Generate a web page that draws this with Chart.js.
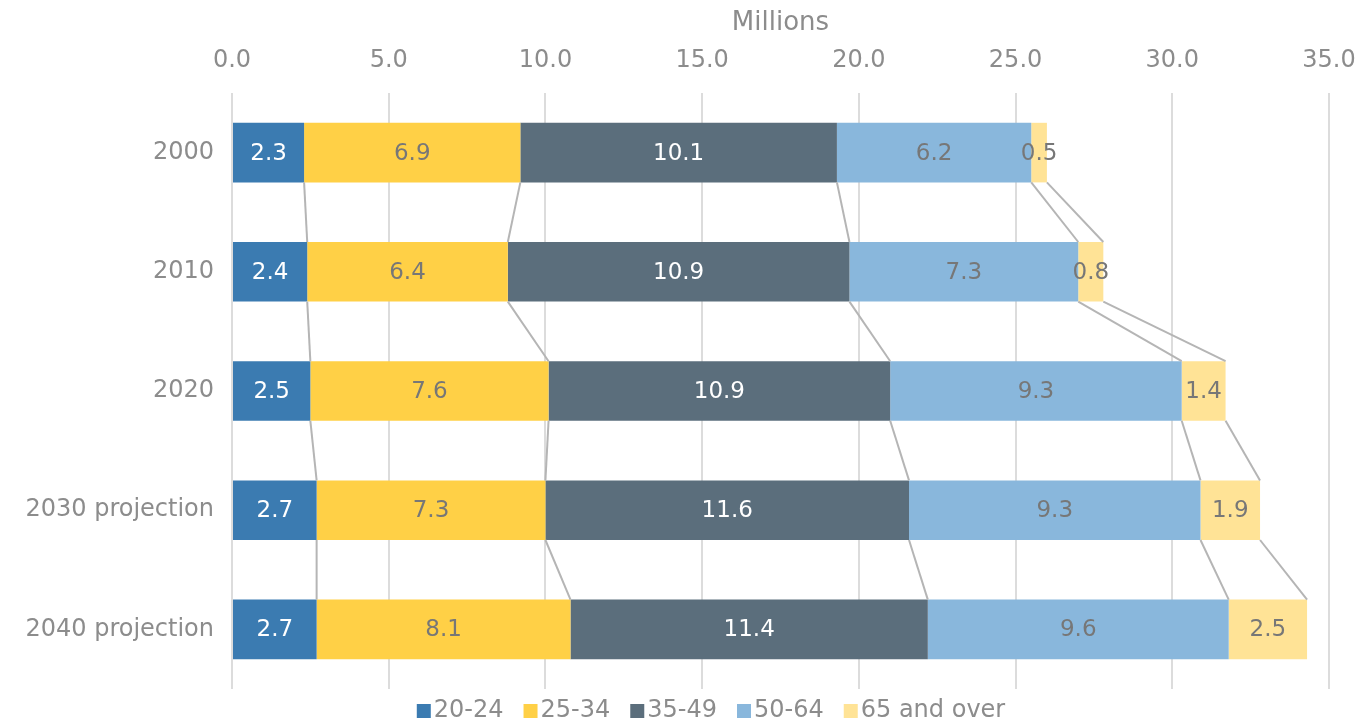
<!DOCTYPE html>
<html>
<head>
<meta charset="utf-8">
<script src="https://cdn.jsdelivr.net/npm/chart.js@4"></script>
<style>
html,body{margin:0;padding:0;background:#fff;}
#wrap{width:1371px;height:725px;}
</style>
</head>
<body>
<div id="wrap"><canvas id="c" width="1371" height="725"></canvas></div>
<script>
const categories = ["2000", "2010", "2020", "2030 projection", "2040 projection"];
const seriesNames = ["20-24", "25-34", "35-49", "50-64", "65 and over"];
const age20_24 = [2.3, 2.4, 2.5, 2.7, 2.7];
const age25_34 = [6.9, 6.4, 7.6, 7.3, 8.1];
const age35_49 = [10.1, 10.9, 10.9, 11.6, 11.4];
const age50_64 = [6.2, 7.3, 9.3, 9.3, 9.6];
const age65plus = [0.5, 0.8, 1.4, 1.9, 2.5];
const xTicks = [0, 5, 10, 15, 20, 25, 30, 35];

const seriesValues = [age20_24, age25_34, age35_49, age50_64, age65plus];
const colors = ["#3B7BB1", "#FFD046", "#5B6E7C", "#89B7DC", "#FFE396"];
const labelColors = ["#ffffff", "#777777", "#ffffff", "#777777", "#777777"];
const FONT = "'DejaVu Sans', sans-serif";
const GRAY = "#8c8c8c";

const seriesLines = {
  id: 'seriesLines',
  afterDatasetsDraw(chart) {
    const ctx = chart.ctx;
    ctx.save();
    ctx.strokeStyle = '#b5b5b5';
    ctx.lineWidth = 2;
    chart.data.datasets.forEach((ds, di) => {
      const meta = chart.getDatasetMeta(di);
      for (let i = 0; i < meta.data.length - 1; i++) {
        const a = meta.data[i], b = meta.data[i + 1];
        ctx.beginPath();
        ctx.moveTo(a.x, a.y + a.height / 2);
        ctx.lineTo(b.x, b.y - b.height / 2);
        ctx.stroke();
      }
    });
    ctx.restore();
  }
};

const dataLabels = {
  id: 'dataLabels',
  afterDatasetsDraw(chart) {
    const ctx = chart.ctx;
    ctx.save();
    ctx.font = "23px " + FONT;
    ctx.textAlign = 'center';
    ctx.textBaseline = 'middle';
    chart.data.datasets.forEach((ds, di) => {
      const meta = chart.getDatasetMeta(di);
      meta.data.forEach((el, i) => {
        ctx.fillStyle = labelColors[di];
        const cx = (el.x + el.base) / 2;
        ctx.fillText(ds.data[i].toFixed(1), cx, el.y + 1);
      });
    });
    ctx.restore();
  }
};

const bottomLegend = {
  id: 'bottomLegend',
  afterDraw(chart) {
    const ctx = chart.ctx;
    ctx.save();
    ctx.font = "24px " + FONT;
    ctx.textBaseline = 'middle';
    ctx.textAlign = 'left';
    const box = 14, gap = 3, itemGap = 20;
    const items = chart.data.datasets.map((ds, i) => ({ text: ds.label, color: ds.backgroundColor, w: ctx.measureText(ds.label).width }));
    const total = items.reduce((s, it) => s + box + gap + it.w, 0) + itemGap * (items.length - 1);
    let x = 711 - total / 2;
    const cy = 711;
    items.forEach(it => {
      ctx.fillStyle = it.color;
      ctx.fillRect(x, cy - box / 2, box, box);
      ctx.fillStyle = GRAY;
      ctx.fillText(it.text, x + box + gap, cy);
      x += box + gap + it.w + itemGap;
    });
    ctx.restore();
  }
};

new Chart(document.getElementById('c'), {
  type: 'bar',
  data: {
    labels: categories,
    datasets: seriesNames.map((n, i) => ({
      label: n,
      data: seriesValues[i],
      backgroundColor: colors[i],
      borderWidth: 0,
      barPercentage: 1,
      categoryPercentage: 0.5
    }))
  },
  options: {
    indexAxis: 'y',
    responsive: false,
    animation: false,
    layout: { padding: { left: 0, right: 0, top: 0, bottom: 36 } },
    scales: {
      x: {
        position: 'top',
        stacked: true,
        min: 0, max: 35,
        afterBuildTicks: s => { s.ticks = xTicks.map(v => ({ value: v })); },
        afterFit: s => { s.height = 93; s.paddingRight = 42; s.paddingLeft = 0; },
        ticks: {
          color: GRAY,
          font: { family: FONT, size: 24 },
          padding: 18,
          callback: v => Number(v).toFixed(1)
        },
        grid: { color: '#dcdcdc', lineWidth: 2, drawTicks: false },
        border: { display: false },
        title: {
          display: true, text: 'Millions', color: GRAY,
          font: { family: FONT, size: 26 }, padding: { top: 8, bottom: 0 }
        }
      },
      y: {
        stacked: true,
        afterFit: s => { s.width = 232; },
        ticks: { color: GRAY, font: { family: FONT, size: 24 }, padding: 10 },
        grid: { display: false },
        border: { display: false }
      }
    },
    plugins: {
      legend: { display: false },
      tooltip: { enabled: false }
    }
  },
  plugins: [seriesLines, dataLabels, bottomLegend]
});
</script>
</body>
</html>
